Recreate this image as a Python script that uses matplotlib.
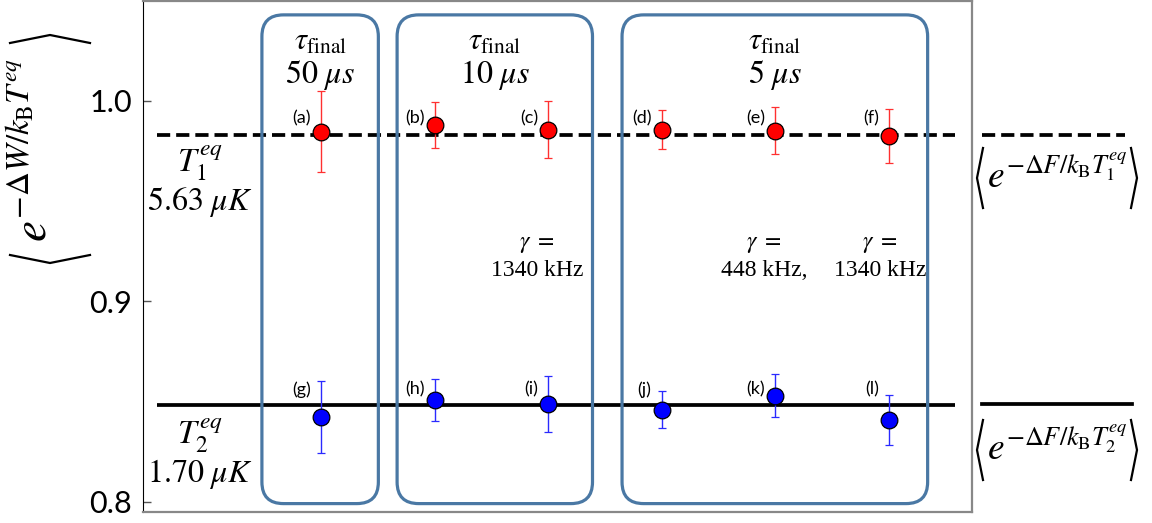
import matplotlib
matplotlib.use("Agg")
import matplotlib.pyplot as plt
from matplotlib.patches import FancyBboxPatch
import numpy as np

plt.rcParams['mathtext.fontset'] = 'stix'
plt.rcParams['lines.scale_dashes'] = False

# Jarzynski averages for each protocol
labels_hot = ['(a)', '(b)', '(c)', '(d)', '(e)', '(f)']
labels_cold = ['(g)', '(h)', '(i)', '(j)', '(k)', '(l)']
avg_hot = [0.9846, 0.9878, 0.9855, 0.9855, 0.9851, 0.9825]
err_hot = [0.0200, 0.0114, 0.0142, 0.0097, 0.0116, 0.0135]
avg_cold = [0.8421, 0.8508, 0.8485, 0.8458, 0.8528, 0.8405]
err_cold = [0.0180, 0.0105, 0.0140, 0.0092, 0.0107, 0.0125]

# equilibrium references
ref_hot = 0.9828
ref_cold = 0.8481

tau_labels = ['50', '10', '5']
gamma_labels = ['1340 kHz', '448 kHz,', '1340 kHz']

xs = np.arange(len(avg_hot))
W, H = 1152, 523


def px(x, y):
    # pixel position (origin top-left) -> figure fraction
    return x / W, 1 - y / H


def bracket(fig, pts):
    xx, yy = zip(*[px(*p) for p in pts])
    fig.add_artist(plt.Line2D(xx, yy, color='black', lw=1.6, solid_joinstyle='miter'))


fig = plt.figure(figsize=(11.52, 5.23), dpi=100)
ax = fig.add_axes([0.1241, 0.021, 0.7197, 0.977])
ax.set_xlim(-1.567, 5.731)
ax.set_ylim(0.7948, 1.0497)

ax.hlines(ref_hot, -1.444, 5.581, color='black', lw=2.7, ls=(0, (9.5, 4.3)), zorder=2)
ax.hlines(ref_cold, -1.444, 5.581, color='black', lw=2.7, zorder=2)

ax.errorbar(xs, avg_hot, yerr=err_hot, fmt='o', ms=12, mfc='#ff0000', mec='black',
            mew=0.9, ecolor='#ff3030', elinewidth=1.0, capsize=3, capthick=1.0, zorder=4)
ax.errorbar(xs, avg_cold, yerr=err_cold, fmt='o', ms=12, mfc='#0000ff', mec='black',
            mew=0.9, ecolor='#2a2aff', elinewidth=1.0, capsize=3, capthick=1.0, zorder=4)

for x, lab in zip(xs, labels_hot):
    ax.text(x - 0.09, 0.9910, lab, ha='right', va='center', fontsize=13, family='Lato')
for x, lab in zip(xs, labels_cold):
    ax.text(x - 0.09, 0.8560, lab, ha='right', va='center', fontsize=13, family='Lato')

# rounded frames grouping the protocols by duration
box_color = '#4a78a4'
frames = [(-0.52, 0.505), (0.67, 2.39), (2.65, 5.34)]
aspect = 113.6 / 2008.0
for (x0, x1), tau in zip(frames, tau_labels):
    patch = FancyBboxPatch((x0, 0.7990), x1 - x0, 1.0428 - 0.7990,
                           boxstyle='round,pad=0,rounding_size=0.19',
                           mutation_aspect=aspect, fc='none', ec=box_color,
                           lw=2.3, zorder=3)
    ax.add_patch(patch)
    xc = (x0 + x1) / 2
    ax.text(xc, 1.0296, r'$\tau_{\rm final}$', ha='center', va='center', fontsize=22)
    ax.text(xc, 1.0128, r'$%s\ \mu s$' % tau, ha='center', va='center', fontsize=23)

# damping rates for the modified protocols
for x, g in zip([1.9, 3.9, 4.92], gamma_labels):
    ax.text(x, 0.9289, r'$\gamma\ =$', ha='center', va='center', fontsize=17)
    ax.text(x, 0.9152, g, ha='center', va='center', fontsize=17, family='Liberation Serif')

# temperature annotations
ax.text(-1.067, 0.9688, r'$T_1^{eq}$', ha='center', va='center', fontsize=24)
ax.text(-1.067, 0.9493, r'$5.63\ \mu K$', ha='center', va='center', fontsize=23)
ax.text(-1.067, 0.8329, r'$T_2^{eq}$', ha='center', va='center', fontsize=24)
ax.text(-1.067, 0.8136, r'$1.70\ \mu K$', ha='center', va='center', fontsize=23)

ax.set_xticks([])
ax.set_yticks([0.8, 0.9, 1.0])
ax.set_yticklabels(['0.8', '0.9', '1.0'], fontsize=22, family='Lato')
ax.tick_params(axis='y', direction='in', length=6, width=1, color='#555555', pad=8)
ax.spines['left'].set_color('black')
for s in ['top', 'right', 'bottom']:
    ax.spines[s].set_color('#888888')
    ax.spines[s].set_linewidth(1.6)

# y label with tall angle brackets
fig.text(*px(34, 150), r'$e^{-\Delta W/k_{\rm B}T^{eq}}$',
         rotation=90, ha='center', va='center', fontsize=34)
bracket(fig, [(10, 43), (50, 35), (90, 43)])
bracket(fig, [(10, 255), (50, 263), (90, 255)])

# key for the reference lines
fig.add_artist(plt.Line2D(*zip(px(982, 135), px(1125, 135)),
                          color='black', lw=2.7, ls=(0, (9.5, 4.3))))
fig.add_artist(plt.Line2D(*zip(px(982, 404), px(1132, 404)),
                          color='black', lw=2.7))
for yc, sub in [(178, '1'), (450, '2')]:
    fig.text(*px(1057, yc - 2), r'$e^{-\Delta F/k_{\rm B}T_%s^{eq}}$' % sub,
             ha='center', va='center', fontsize=27)
    bracket(fig, [(983, yc - 30), (977, yc), (983, yc + 30)])
    bracket(fig, [(1131, yc - 30), (1137, yc), (1131, yc + 30)])

fig.savefig('out.png', dpi=100)
